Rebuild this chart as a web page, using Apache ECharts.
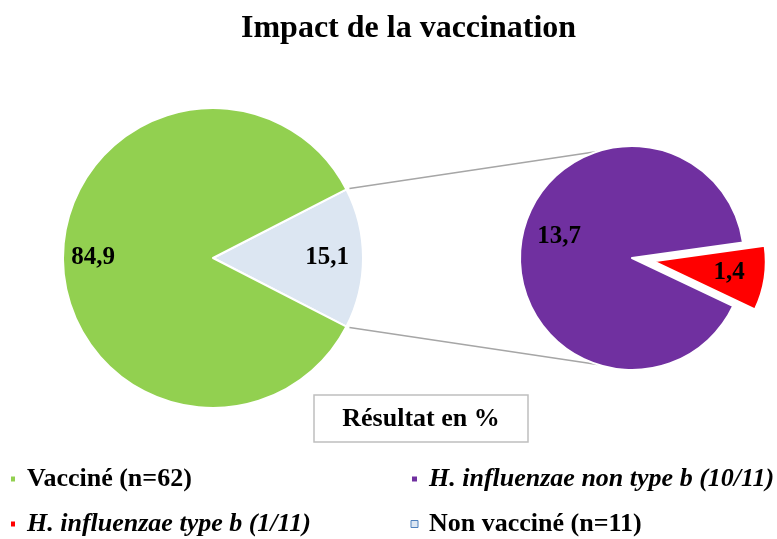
<!DOCTYPE html>
<html>
<head>
<meta charset="utf-8">
<script src="https://cdn.jsdelivr.net/npm/echarts@6/dist/echarts.min.js"></script>
<style>
  html, body { margin: 0; padding: 0; background: #fff; }
  #chart { width: 777px; height: 539px; }
</style>
</head>
<body>
<div id="chart"></div>
<script>
// données
const mainNames = ['Non vacciné (n=11)', 'Vacciné (n=62)']
const mainValues = [15.1, 84.9]
const mainColors = ['#DCE6F2', '#92D050']

const subNames = ['H. influenzae type b (1/11)', 'H. influenzae non type b (10/11)']
const subValues = [1.4, 13.7]
const subColors = ['#FF0000', '#7030A0']

const FONT = "'Liberation Serif', 'Times New Roman', serif"

// géométrie des deux camemberts
const c1 = [213, 258], r1 = 150
const c2 = [632, 258], r2 = 112
const mainStart = mainValues[0] / (mainValues[0] + mainValues[1]) * 180
const subStart = 8
const explode = 22

const midAngles = (values, start) => {
  const total = values.reduce((a, b) => a + b, 0)
  let a = start
  return values.map(v => {
    const span = v / total * 360
    const m = a - span / 2
    a -= span
    return m
  })
}
const mainMid = midAngles(mainValues, mainStart)
const subMid = midAngles(subValues, subStart)

const rad = d => d * Math.PI / 180
const labelAt = (c, r, angle, frac) => ({
  x: c[0] + r * frac * Math.cos(rad(angle)),
  y: c[1] - r * frac * Math.sin(rad(angle)),
  align: 'center',
  verticalAlign: 'middle'
})

// centre de la part détachée
const c3 = [c2[0] + explode * Math.cos(rad(subMid[0])), c2[1] - explode * Math.sin(rad(subMid[0]))]

// lignes de liaison
const tipTop = [c1[0] + r1 * Math.cos(rad(mainStart)), c1[1] - r1 * Math.sin(rad(mainStart))]
const tipBot = [c1[0] + r1 * Math.cos(rad(mainStart)), c1[1] + r1 * Math.sin(rad(mainStart))]
const endTop = [c2[0] - r2 * Math.sin(rad(18)), c2[1] - r2 * Math.cos(rad(18))]
const endBot = [c2[0] - r2 * Math.sin(rad(18)), c2[1] + r2 * Math.cos(rad(18))]

const valueLabel = {
  show: true,
  position: 'inside',
  color: '#000',
  fontFamily: FONT,
  fontWeight: 'bold',
  fontSize: 25,
  formatter: p => String(p.value).replace('.', ',')
}
const hidden = { color: 'rgba(0,0,0,0)', borderWidth: 0 }

const legendText = {
  fontFamily: FONT,
  fontSize: 26,
  fontWeight: 'bold',
  color: '#000',
  rich: {
    n: { fontFamily: FONT, fontSize: 26, fontWeight: 'bold', color: '#000', lineHeight: 30, padding: [0, 0, 0, 6] },
    i: { fontFamily: FONT, fontSize: 26, fontWeight: 'bold', fontStyle: 'italic', color: '#000', lineHeight: 30, padding: [0, 0, 0, 6] }
  }
}
const legendFormatter = name => name.startsWith('H.') ? '{i|' + name + '}' : '{n|' + name + '}'

const chart = echarts.init(document.getElementById('chart'))

chart.setOption({
  animation: false,
  title: {
    text: 'Impact de la vaccination',
    left: 236,
    top: 8,
    textStyle: { fontFamily: FONT, fontWeight: 'bold', fontSize: 32, color: '#000' }
  },
  legend: [
    {
      orient: 'vertical',
      left: 9,
      top: 466,
      padding: 0,
      itemGap: 19,
      itemWidth: 6,
      itemHeight: 7,
      icon: 'rect',
      selectedMode: false,
      data: [mainNames[1], subNames[0]],
      formatter: legendFormatter,
      textStyle: legendText
    },
    {
      orient: 'vertical',
      left: 410,
      top: 466,
      padding: 0,
      itemGap: 19,
      itemWidth: 7,
      itemHeight: 7,
      icon: 'rect',
      selectedMode: false,
      data: [subNames[1], { name: mainNames[0], itemStyle: { borderColor: '#4F81BD', borderWidth: 1 } }],
      formatter: legendFormatter,
      textStyle: legendText
    }
  ],
  series: [
    {
      type: 'pie',
      center: c1,
      radius: [0, r1],
      startAngle: mainStart,
      clockwise: true,
      label: valueLabel,
      labelLine: { show: false },
      labelLayout: p => labelAt(c1, r1, mainMid[p.dataIndex], p.dataIndex === 0 ? 0.76 : 0.8),
      itemStyle: { borderColor: '#fff', borderWidth: 2 },
      emphasis: { disabled: true },
      data: mainNames.map((n, i) => ({ name: n, value: mainValues[i], itemStyle: { color: mainColors[i] } }))
    },
    {
      // part non-type b (la part type b est laissée vide ici)
      type: 'pie',
      center: c2,
      radius: [0, r2],
      startAngle: subStart,
      clockwise: true,
      label: valueLabel,
      labelLine: { show: false },
      labelLayout: p => labelAt(c2, r2, subMid[1] - 8, 0.68),
      itemStyle: { borderColor: '#fff', borderWidth: 2 },
      emphasis: { disabled: true },
      silent: true,
      data: [
        { name: '', value: subValues[0], itemStyle: hidden, label: { show: false } },
        { name: subNames[1], value: subValues[1], itemStyle: { color: subColors[1] } }
      ]
    },
    {
      // part type b, détachée
      type: 'pie',
      center: c3,
      radius: [0, r2],
      startAngle: subStart,
      clockwise: true,
      label: valueLabel,
      labelLine: { show: false },
      labelLayout: p => labelAt(c3, r2, subMid[0], 0.68),
      itemStyle: { borderColor: '#fff', borderWidth: 2 },
      emphasis: { disabled: true },
      silent: true,
      data: [
        { name: subNames[0], value: subValues[0], itemStyle: { color: subColors[0] } },
        { name: ' ', value: subValues[1], itemStyle: hidden, label: { show: false } }
      ]
    }
  ],
  graphic: [
    {
      type: 'line',
      shape: { x1: tipTop[0] + 3, y1: tipTop[1] - 1, x2: endTop[0], y2: endTop[1] },
      style: { stroke: '#A6A6A6', lineWidth: 1.5 }
    },
    {
      type: 'line',
      shape: { x1: tipBot[0] + 3, y1: tipBot[1] + 1, x2: endBot[0], y2: endBot[1] },
      style: { stroke: '#A6A6A6', lineWidth: 1.5 }
    },
    {
      type: 'rect',
      shape: { x: 314, y: 395, width: 214, height: 47 },
      style: { fill: '#fff', stroke: '#BFBFBF', lineWidth: 1.5 }
    },
    {
      type: 'text',
      x: 421,
      y: 419,
      style: {
        text: 'Résultat en %',
        fontFamily: FONT,
        fontWeight: 'bold',
        fontSize: 26,
        fill: '#000',
        align: 'center',
        verticalAlign: 'middle'
      }
    }
  ]
})

window.addEventListener('resize', () => chart.resize())
</script>
</body>
</html>
